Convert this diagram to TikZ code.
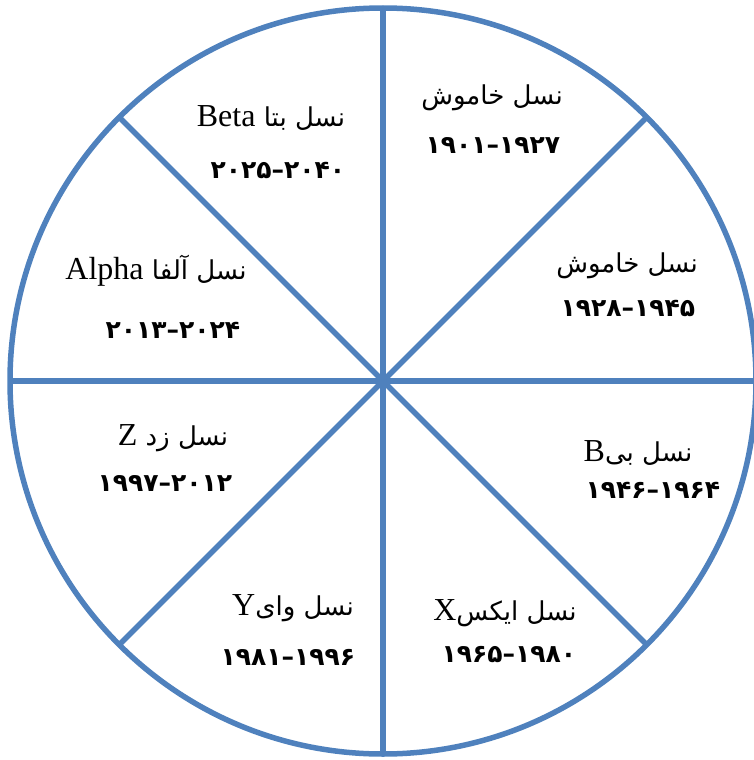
\documentclass[tikz,border=0pt]{standalone}
\usepackage{fontspec}
\usetikzlibrary{calc}
\setmainfont{Liberation Serif}
\newfontfamily\arabicfont[Script=Arabic]{DejaVu Sans}
\TeXXeTstate=1
\definecolor{segblue}{RGB}{79,129,189}
\newcommand{\latword}[1]{\beginL{\rmfamily\fontsize{32}{36}\selectfont #1}\endL}
\begin{document}
\begin{tikzpicture}[x=1pt,y=-1pt,
  rim/.style={draw=segblue,line width=5.5pt},
  spoke/.style={draw=segblue,line width=5.5pt},
  gentitle/.style={inner sep=0pt,font=\arabicfont\fontsize{26}{30}\selectfont},
  genyears/.style={inner sep=0pt,font=\arabicfont\bfseries\fontsize{25}{30}\selectfont}]
\useasboundingbox (0,0) rectangle (754,760);
\clip (0,0) rectangle (754,760);
\coordinate (c) at (383,381);
\foreach \a/\n in {0/e,45/ne,90/n,135/nw,180/w,225/sw,270/s,315/se}{
  \coordinate (\n) at ($(c)+(\a:373 and -373)$);
}
\draw[rim] (c) circle[radius=373];
\foreach \n in {e,ne,n,nw,w,sw,s,se}{\draw[spoke] (c) -- (\n);}
% top-right
\node[gentitle] (t1) at (492,98) {\beginR نسل خاموش\endR};
\node[genyears] (y1) at (493,145) {۱۹۲۷–۱۹۰۱};
% right upper
\node[gentitle] (t2) at (627,266) {\beginR نسل خاموش\endR};
\node[genyears] (y2) at (628,308) {۱۹۴۵–۱۹۲۸};
% right lower
\node[gentitle] (t3) at (638,453) {\beginR نسل بی\latword{B}\endR};
\node[genyears] (y3) at (653,490) {۱۹۶۴–۱۹۴۶};
% bottom-right
\node[gentitle] (t4) at (505,613) {\beginR نسل ایکس\latword{X}\endR};
\node[genyears] (y4) at (509,655) {۱۹۸۰–۱۹۶۵};
% bottom-left
\node[gentitle] (t5) at (293,608) {\beginR نسل وای\latword{Y}\endR};
\node[genyears] (y5) at (288,657) {۱۹۹۶–۱۹۸۱};
% left lower
\node[gentitle] (t6) at (173,438) {\beginR نسل زد \latword{Z}\endR};
\node[genyears] (y6) at (165,483) {۲۰۱۲–۱۹۹۷};
% left upper
\node[gentitle] (t7) at (156,271) {\beginR نسل آلفا \latword{Alpha}\endR};
\node[genyears] (y7) at (173,330) {۲۰۲۴–۲۰۱۳};
% top-left
\node[gentitle] (t8) at (271,118) {\beginR نسل بتا \latword{Beta}\endR};
\node[genyears] (y8) at (278,170) {۲۰۴۰–۲۰۲۵};
\end{tikzpicture}
\end{document}
